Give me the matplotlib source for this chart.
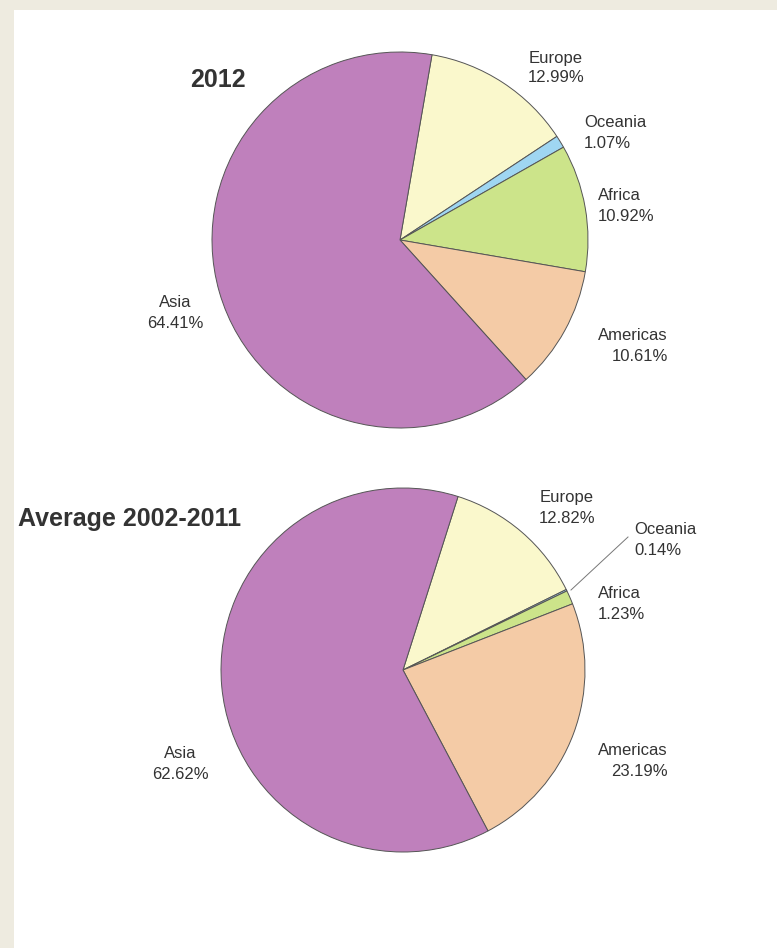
import matplotlib
matplotlib.use("Agg")
import matplotlib.pyplot as plt
from matplotlib.patches import Rectangle

W, H = 777, 948

regions = ["Europe", "Oceania", "Africa", "Americas", "Asia"]
share_2012 = [12.99, 1.07, 10.92, 10.61, 64.41]
share_avg = [12.82, 0.14, 1.23, 23.19, 62.62]
colors = ["#faf8cc", "#9fd6f2", "#cce48a", "#f4cba6", "#bf80bc"]

label_font = ["Liberation Sans Narrow", "Liberation Sans", "DejaVu Sans"]
title_font = ["Liberation Sans", "DejaVu Sans"]
text_color = "#333333"

fig = plt.figure(figsize=(W / 100, H / 100), dpi=100, facecolor="#eeebe0")
ax = fig.add_axes([0, 0, 1, 1])
ax.set_xlim(0, W)
ax.set_ylim(0, H)
ax.set_aspect("equal")
ax.axis("off")

# white panel
ax.add_patch(Rectangle((14, 0), W - 14, H - 10, facecolor="white", edgecolor="none", zorder=0))


def py(y):
    # pixel row -> data y
    return H - y


def draw_pie(values, center, radius, start):
    ax.pie(values, colors=colors, center=(center[0], py(center[1])), radius=radius,
           startangle=start, counterclock=False, frame=True,
           wedgeprops=dict(edgecolor="#555555", linewidth=0.7))


def label(x, y, name, val, ha, ls=1.45):
    ax.text(x, py(y), f"{name}\n{val:.2f}%", ha=ha, va="center", fontsize=12,
            family=label_font, color=text_color, linespacing=ls)


# 2012
draw_pie(share_2012, (400, 240), 188, 80.2)
ax.text(190, py(80), "2012", fontsize=18, fontweight="bold", family=title_font,
        color=text_color, va="center", ha="left")
label(556, 68, regions[0], share_2012[0], "center", 1.3)
label(584, 133, regions[1], share_2012[1], "left")
label(598, 206, regions[2], share_2012[2], "left")
label(668, 346, regions[3], share_2012[3], "right")
label(175, 313, regions[4], share_2012[4], "center")

# average 2002-2011
draw_pie(share_avg, (403, 670), 182, 72.4)
ax.text(18, py(519), "Average 2002-2011", fontsize=18, fontweight="bold", family=title_font,
        color=text_color, va="center", ha="left")
label(567, 508, regions[0], share_avg[0], "center")
label(634, 540, regions[1], share_avg[1], "left")
label(598, 604, regions[2], share_avg[2], "left")
label(668, 761, regions[3], share_avg[3], "right")
label(180, 764, regions[4], share_avg[4], "center")
ax.plot([571, 628], [py(590), py(537)], color="#777777", linewidth=0.7)

ax.set_xlim(0, W)
ax.set_ylim(0, H)
ax.axis("off")

fig.savefig("out.png", dpi=100, facecolor=fig.get_facecolor())
